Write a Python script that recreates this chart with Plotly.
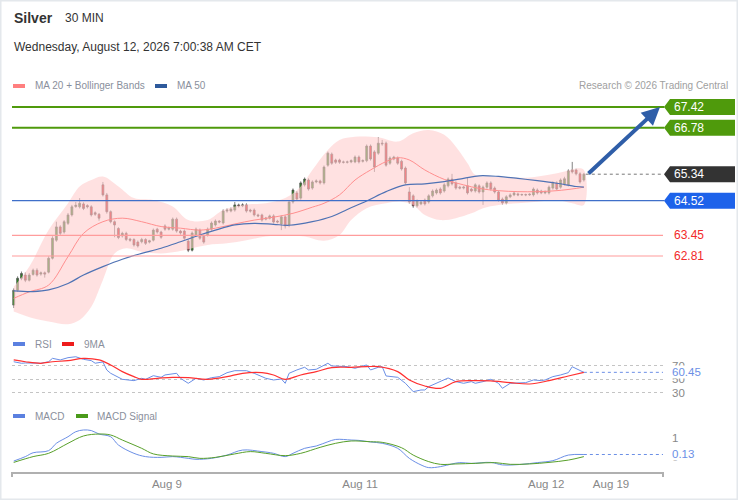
"""Silver 30 MIN chart with Bollinger bands, RSI and MACD panels."""
import plotly.graph_objects as go

# ---- price candles (index 0 = first 30 min bar) ----
opens = [
    61.29, 61.75, 62.12, 62.22, 62.06, 62.24, 62.37, 62.25, 62.29, 62.31,
    62.74, 63.30, 63.71, 63.55, 63.82, 64.08, 64.34, 64.33, 64.42, 64.37,
    64.33, 64.15, 64.10, 65.01, 64.70, 64.18, 63.87, 63.66, 63.43, 63.51,
    63.33, 63.32, 63.24, 63.25, 63.32, 63.24, 63.30, 63.64, 63.55, 63.74,
    63.64, 63.64, 63.95, 63.58, 63.58, 63.27, 62.99, 63.46, 63.61, 63.42,
    63.46, 63.64, 63.77, 63.89, 63.83, 64.20, 64.20, 64.23, 64.39, 64.36,
    64.39, 64.23, 64.23, 64.08, 64.08, 63.95, 63.98, 64.05, 63.89, 63.80,
    64.02, 63.77, 64.48, 64.76, 64.60, 65.01, 65.16, 64.91, 65.10, 65.13,
    65.07, 65.62, 65.96, 65.78, 65.78, 65.72, 65.71, 65.72, 65.72, 65.87,
    65.74, 65.76, 66.21, 66.03, 65.99, 66.30, 66.30, 65.68, 65.81, 65.84,
    65.74, 65.53, 64.79, 64.67, 64.36, 64.42, 64.54, 64.48, 64.67, 64.76,
    64.88, 64.82, 64.98, 65.19, 65.07, 64.94, 64.91, 64.98, 64.88, 64.82,
    64.98, 64.79, 64.94, 65.07, 64.91, 64.79, 64.57, 64.45, 64.64, 64.70,
    64.73, 64.70, 64.71, 64.70, 64.70, 64.85, 64.82, 64.76, 64.76, 64.91,
    65.07, 64.94, 65.04, 65.01, 65.47, 65.47, 65.35, 65.16,
]
highs = [
    61.81, 62.18, 62.33, 62.30, 62.28, 62.42, 62.43, 62.33, 62.33, 62.80,
    63.42, 63.87, 63.76, 63.92, 64.14, 64.39, 64.48, 64.60, 64.47, 64.41,
    64.38, 64.19, 64.14, 65.10, 64.76, 64.22, 63.91, 63.70, 63.56, 63.56,
    63.37, 63.36, 63.29, 63.37, 63.36, 63.31, 63.66, 63.68, 63.59, 63.79,
    63.72, 64.00, 64.00, 63.62, 63.63, 63.33, 63.57, 63.69, 63.66, 63.47,
    63.69, 63.88, 63.94, 63.92, 64.25, 64.28, 64.31, 64.48, 64.43, 64.44,
    64.44, 64.27, 64.28, 64.12, 64.12, 64.02, 64.09, 64.10, 63.93, 64.07,
    64.07, 64.53, 64.90, 64.82, 65.12, 65.24, 65.21, 65.15, 65.18, 65.17,
    65.61, 66.04, 66.01, 65.82, 65.82, 65.76, 65.76, 65.80, 65.92, 65.92,
    65.80, 66.26, 66.26, 66.08, 66.49, 66.40, 66.35, 65.89, 65.91, 65.89,
    65.79, 65.58, 64.94, 64.72, 64.56, 64.53, 64.59, 64.72, 64.87, 64.90,
    64.93, 65.06, 65.24, 65.35, 65.12, 64.98, 64.98, 65.22, 64.92, 65.06,
    65.03, 64.99, 65.12, 65.12, 64.96, 64.84, 64.62, 64.69, 64.75, 64.80,
    64.77, 64.74, 64.74, 64.75, 64.93, 64.90, 64.86, 64.84, 64.99, 65.12,
    65.12, 65.21, 65.26, 65.49, 65.72, 65.51, 65.40, 65.38,
]
lows = [
    61.20, 61.70, 62.06, 62.00, 62.02, 62.20, 62.17, 62.20, 62.14, 62.27,
    62.70, 63.25, 63.46, 63.50, 63.77, 64.03, 64.30, 64.28, 64.23, 64.28,
    64.03, 64.05, 63.90, 64.65, 64.12, 63.82, 63.39, 63.33, 63.38, 63.27,
    63.25, 63.10, 63.07, 63.20, 63.15, 63.20, 63.26, 63.50, 63.34, 63.59,
    63.60, 63.59, 63.53, 63.47, 63.31, 62.93, 62.95, 63.41, 63.31, 63.19,
    63.41, 63.59, 63.72, 63.82, 63.78, 64.15, 64.16, 64.18, 64.31, 64.32,
    64.15, 64.15, 64.03, 64.01, 63.87, 63.91, 63.94, 63.81, 63.82, 63.61,
    63.66, 63.70, 64.43, 64.52, 64.55, 64.96, 64.83, 64.86, 65.06, 65.02,
    65.02, 65.57, 65.63, 65.66, 65.66, 65.67, 65.67, 65.68, 65.68, 65.67,
    65.70, 65.71, 65.76, 65.41, 65.94, 66.22, 65.57, 65.63, 65.77, 65.63,
    65.45, 65.02, 64.43, 64.30, 64.31, 64.38, 64.37, 64.43, 64.62, 64.71,
    64.71, 64.77, 64.93, 64.99, 64.86, 64.87, 64.87, 64.71, 64.78, 64.77,
    64.74, 64.39, 64.89, 64.83, 64.74, 64.49, 64.40, 64.41, 64.60, 64.66,
    64.66, 64.67, 64.66, 64.67, 64.65, 64.71, 64.72, 64.72, 64.71, 64.86,
    64.83, 64.89, 64.99, 64.96, 65.36, 65.30, 65.05, 65.11,
]
closes = [
    61.75, 62.12, 62.27, 62.06, 62.22, 62.37, 62.22, 62.29, 62.25, 62.74,
    63.36, 63.71, 63.51, 63.87, 64.08, 64.33, 64.38, 64.44, 64.28, 64.33,
    64.08, 64.10, 63.98, 64.70, 64.18, 63.87, 63.77, 63.38, 63.51, 63.32,
    63.30, 63.15, 63.12, 63.32, 63.20, 63.28, 63.61, 63.55, 63.39, 63.64,
    63.67, 63.95, 63.58, 63.52, 63.36, 62.99, 63.52, 63.64, 63.36, 63.24,
    63.64, 63.83, 63.89, 63.86, 64.20, 64.23, 64.26, 64.39, 64.36, 64.39,
    64.20, 64.20, 64.08, 64.05, 63.92, 63.98, 64.05, 63.86, 63.86, 64.02,
    63.74, 64.48, 64.85, 64.57, 65.07, 65.19, 64.88, 65.10, 65.13, 65.07,
    65.56, 65.99, 65.68, 65.71, 65.71, 65.71, 65.72, 65.76, 65.87, 65.72,
    65.76, 66.21, 65.81, 65.56, 66.30, 66.28, 65.62, 65.84, 65.87, 65.68,
    65.50, 65.07, 64.48, 64.36, 64.51, 64.48, 64.42, 64.67, 64.82, 64.85,
    64.76, 65.01, 65.19, 65.04, 64.91, 64.91, 64.94, 64.76, 64.82, 65.01,
    64.79, 64.94, 65.07, 64.88, 64.79, 64.54, 64.45, 64.64, 64.70, 64.76,
    64.70, 64.71, 64.70, 64.72, 64.88, 64.76, 64.76, 64.80, 64.94, 65.07,
    64.88, 65.16, 65.20, 65.44, 65.41, 65.35, 65.10, 65.34,
]
bar_idx = list(range(len(closes)))

# ---- overlays ----
bb_upper_x = [0, 4, 9, 14, 17, 20, 23, 27, 31, 36, 41, 45, 50, 54, 59, 65, 70, 74,
              77, 81, 84, 88, 94, 99, 103, 107, 111, 114, 117, 119, 123, 128, 133,
              138, 142, 145, 147]
bb_upper = [61.86, 62.48, 63.61, 64.44, 64.96, 65.16, 65.27, 64.96, 64.60, 64.54,
            64.34, 63.92, 63.92, 64.23, 64.39, 64.44, 64.60, 64.96, 65.47, 66.09,
            66.40, 66.50, 66.48, 66.35, 66.61, 66.71, 66.56, 66.19, 65.68, 65.32,
            65.27, 65.24, 65.24, 65.32, 65.42, 65.52, 65.47]
bb_lower_x = [0, 5, 9, 14, 17, 20, 23, 26, 29, 33, 38, 42, 46, 50, 55, 60, 65, 70,
              75, 80, 84, 87, 91, 96, 100, 103, 106, 110, 114, 118, 121, 125, 130,
              135, 140, 144, 147]
bb_lower = [61.09, 60.88, 60.78, 60.70, 60.83, 61.24, 62.07, 62.89, 63.05, 62.94,
            62.89, 62.94, 63.05, 63.15, 63.20, 63.30, 63.41, 63.46, 63.41, 63.28,
            63.46, 63.92, 64.29, 64.44, 64.49, 64.39, 64.08, 63.92, 63.98, 64.13,
            64.29, 64.39, 64.44, 64.49, 64.54, 64.44, 64.39]
ma20_x = [0, 4, 9, 14, 18, 23, 28, 33, 38, 43, 48, 52, 57, 62, 67, 72, 77, 80, 84,
          88, 92, 96, 99, 102, 106, 111, 116, 120, 125, 130, 135, 140, 145, 147]
ma20 = [61.50, 61.70, 61.91, 62.79, 63.51, 63.87, 63.98, 63.87, 63.72, 63.67,
        63.61, 63.67, 63.80, 63.92, 64.01, 64.13, 64.32, 64.44, 64.70, 65.16,
        65.47, 65.73, 65.85, 65.78, 65.47, 65.18, 65.01, 64.90, 64.83, 64.80,
        64.80, 64.83, 64.90, 64.94]
ma50_x = [0, 5, 9, 14, 18, 23, 28, 33, 38, 43, 48, 52, 57, 62, 67, 71, 77, 82, 86,
          91, 96, 101, 106, 111, 116, 120, 125, 130, 135, 140, 145, 147]
ma50 = [61.73, 61.71, 61.76, 61.96, 62.22, 62.48, 62.71, 62.89, 63.05, 63.25,
        63.46, 63.61, 63.77, 63.82, 63.79, 63.76, 63.87, 64.03, 64.25, 64.51,
        64.80, 65.01, 65.04, 65.11, 65.21, 65.29, 65.27, 65.21, 65.14, 65.06,
        64.96, 64.94]

# ---- key levels ----
resistances = [67.42, 66.78]
last_price = 65.34
pivot = 64.52
supports = [63.45, 62.81]

# ---- RSI panel ----
rsi_x = [0, 2, 3, 5, 7, 9, 10, 12, 14, 16, 18, 20, 21, 23, 24, 25, 27, 28, 31, 33,
         34, 36, 38, 39, 42, 43, 45, 47, 49, 51, 53, 55, 57, 60, 62, 64, 65, 67,
         69, 70, 71, 73, 75, 76, 78, 81, 82, 86, 88, 91, 92, 94, 95, 96, 97, 99,
         101, 103, 105, 106, 107, 109, 111, 112, 114, 116, 118, 119, 121, 123,
         125, 126, 128, 130, 132, 134, 136, 137, 139, 141, 143, 144, 146, 147]
rsi = [76.3, 74.0, 74.5, 74.0, 74.0, 76.3, 81.4, 79.0, 82.4, 83.8, 79.9, 78.0,
       74.1, 76.0, 63.9, 59.0, 52.4, 50.0, 48.0, 51.5, 50.0, 55.4, 53.0, 56.5,
       59.0, 51.5, 44.0, 51.5, 49.0, 52.4, 54.0, 59.9, 62.9, 62.9, 59.0, 54.0,
       51.5, 49.0, 50.5, 44.0, 59.0, 64.0, 68.0, 64.0, 65.0, 74.0, 70.0, 69.0,
       66.5, 71.5, 64.0, 68.0, 69.0, 55.0, 54.0, 53.0, 44.0, 31.5, 34.0, 34.0,
       39.0, 44.0, 49.0, 52.0, 46.5, 44.0, 46.5, 44.0, 46.5, 50.0, 44.0, 36.5,
       44.0, 45.0, 45.0, 49.0, 48.0, 49.0, 54.0, 56.5, 60.0, 68.8, 63.0, 60.45]
rsi_ma_x = [0, 3, 7, 10, 14, 18, 22, 25, 28, 31, 33, 37, 41, 45, 50, 55, 59, 64,
            67, 70, 74, 78, 82, 87, 91, 94, 99, 102, 106, 110, 114, 119, 123, 128,
            133, 138, 143, 147]
rsi_ma = [79.0, 76.3, 74.0, 76.3, 78.0, 81.4, 79.0, 71.5, 61.5, 54.0, 50.0, 51.5,
          53.0, 52.4, 50.0, 54.0, 59.0, 60.0, 56.5, 50.0, 56.5, 61.5, 67.5, 68.0,
          69.0, 69.0, 61.5, 49.0, 40.0, 36.5, 46.5, 48.0, 47.5, 45.0, 43.0, 48.0,
          55.0, 60.45]
rsi_levels = [70, 50, 30]

# ---- MACD panel ----
macd_x = [0, 3, 5, 9, 11, 14, 16, 18, 20, 22, 25, 27, 31, 34, 38, 41, 45, 47, 51,
          55, 59, 64, 67, 70, 72, 75, 78, 81, 83, 87, 89, 92, 95, 99, 102, 105,
          107, 110, 113, 115, 118, 123, 126, 131, 135, 139, 143, 147]
macd = [-0.21, 0.02, 0.22, 0.33, 0.71, 1.05, 1.31, 1.40, 1.37, 1.19, 1.05, 0.62,
        0.19, 0.02, -0.02, 0.02, -0.07, -0.12, -0.07, 0.10, 0.36, 0.28, 0.19,
        0.02, 0.19, 0.45, 0.57, 0.79, 0.91, 0.88, 0.86, 0.78, 0.71, 0.45, -0.07,
        -0.41, -0.55, -0.50, -0.36, -0.29, -0.33, -0.28, -0.41, -0.38, -0.29,
        -0.19, 0.10, 0.13]
signal_x = [0, 5, 9, 14, 18, 22, 25, 28, 33, 36, 41, 45, 48, 52, 57, 61, 65, 70,
            74, 79, 83, 87, 92, 95, 100, 103, 107, 110, 114, 119, 124, 128, 133,
            138, 143, 147]
signal = [-0.28, 0.02, 0.19, 0.71, 1.09, 1.19, 1.14, 0.88, 0.45, 0.16, 0.05, 0.02,
          -0.07, -0.02, 0.16, 0.28, 0.19, 0.07, 0.19, 0.50, 0.71, 0.83, 0.79, 0.76,
          0.48, 0.10, -0.24, -0.38, -0.36, -0.33, -0.29, -0.38, -0.36, -0.28,
          -0.16, 0.02]
macd_ticks = [0, 1]

# ---- x axis labels ----
date_pos = [39.5, 89.3, 137.3, 154.0]
date_labels = ['Aug 9', 'Aug 11', 'Aug 12', 'Aug 19']

FONT = 'Liberation Sans, Arial, sans-serif'
GREEN = '#4f9a0c'
BLUE_LVL = '#1d62ea'
RED_LVL = '#ff9c9c'
RED_TXT = '#f22a2a'
IND_BLUE = '#6b8fe6'

# pixel layout of the figure (738 x 500)
L, R, T, B = 12, 75, 95, 28
PW, PH = 738 - L - R, 500 - T - B


def px_x(x):
    return (x - L) / PW


def px_y(y):
    return (500 - B - y) / PH


def label(x, y, text, xref='paper', yref='paper', anchor='left', **font):
    return dict(xref=xref, yref=yref, x=x, y=y, text=text, showarrow=False,
                xanchor=anchor, yanchor='middle', font=dict(family=FONT, **font))


fig = go.Figure()

# Bollinger band as one closed area
fig.add_trace(go.Scatter(
    x=bb_upper_x + bb_lower_x[::-1], y=bb_upper + bb_lower[::-1],
    fill='toself', fillcolor='rgba(255,205,205,0.6)', line=dict(width=0),
    mode='lines', line_shape='spline', hoverinfo='skip', showlegend=False,
))
fig.add_trace(go.Scatter(x=ma20_x, y=ma20, mode='lines', line_shape='spline',
                         line=dict(color='#ff8f8f', width=1), showlegend=False))
fig.add_trace(go.Scatter(x=ma50_x, y=ma50, mode='lines', line_shape='spline',
                         line=dict(color='#4f72b4', width=1.2), showlegend=False))
fig.add_trace(go.Candlestick(
    x=bar_idx, open=opens, high=highs, low=lows, close=closes,
    increasing=dict(line=dict(color='#4d4d4d', width=0.7), fillcolor='#2b8a1f'),
    decreasing=dict(line=dict(color='#4d4d4d', width=0.7), fillcolor='#e8141c'),
    whiskerwidth=0, showlegend=False,
))

# RSI
fig.add_trace(go.Scatter(x=rsi_x, y=rsi, yaxis='y2', mode='lines',
                         line=dict(color=IND_BLUE, width=1), showlegend=False))
fig.add_trace(go.Scatter(x=rsi_ma_x, y=rsi_ma, yaxis='y2', mode='lines',
                         line_shape='spline', line=dict(color='#ff3030', width=1.2),
                         showlegend=False))
# MACD
fig.add_trace(go.Scatter(x=macd_x, y=macd, yaxis='y3', mode='lines',
                         line_shape='spline', line=dict(color=IND_BLUE, width=1),
                         showlegend=False))
fig.add_trace(go.Scatter(x=signal_x, y=signal, yaxis='y3', mode='lines',
                         line_shape='spline', line=dict(color='#58a02a', width=1),
                         showlegend=False))

shapes = []
annotations = []
last_i = bar_idx[-1]

# horizontal levels
for lv in resistances:
    shapes.append(dict(type='line', xref='paper', yref='y', x0=0, x1=1.002, y0=lv, y1=lv,
                       line=dict(color=GREEN, width=2)))
shapes.append(dict(type='line', xref='paper', yref='y', x0=0, x1=1.002, y0=pivot, y1=pivot,
                   line=dict(color='#3f6fc9', width=1.3)))
for lv in supports:
    shapes.append(dict(type='line', xref='paper', yref='y', x0=0, x1=1, y0=lv, y1=lv,
                       line=dict(color=RED_LVL, width=1.2)))
shapes.append(dict(type='line', xref='x', yref='y', x0=last_i + 0.5, x1=167.4,
                   y0=last_price, y1=last_price, line=dict(color='#777', width=1, dash='dot')))

# price tags on the right (arrow-shaped boxes)
half_h = 8 / 32.3
tip, body_l, body_r = px_x(664), px_x(670), px_x(735)
for lv, col in [(resistances[0], GREEN), (resistances[1], GREEN),
                (last_price, '#333333'), (pivot, BLUE_LVL)]:
    path = (f'M {tip},{lv} L {body_l},{lv + half_h} L {body_r},{lv + half_h} '
            f'L {body_r},{lv - half_h} L {body_l},{lv - half_h} Z')
    shapes.append(dict(type='path', xref='paper', yref='y', path=path,
                       fillcolor=col, line=dict(width=0)))
    annotations.append(label(px_x(672), lv, f'{lv:.2f}', yref='y', color='white', size=12))
for lv in supports:
    annotations.append(label(px_x(672), lv, f'{lv:.2f}', yref='y', color=RED_TXT, size=12))

# target arrow
annotations.append(dict(xref='paper', yref='y', x=px_x(660), y=resistances[0], text='',
                        showarrow=True, ax=-73, ay=68, arrowcolor='#2f5ea8',
                        arrowwidth=4, arrowhead=2, arrowsize=0.9, standoff=0))

# indicator last values
shapes.append(dict(type='line', xref='x', yref='y2', x0=last_i, x1=167.4,
                   y0=rsi[-1], y1=rsi[-1], line=dict(color=IND_BLUE, width=1, dash='dot')))
shapes.append(dict(type='line', xref='x', yref='y3', x0=last_i, x1=167.4,
                   y0=macd[-1], y1=macd[-1], line=dict(color=IND_BLUE, width=1, dash='dot')))
for yr, val in (('y2', rsi[-1]), ('y3', macd[-1])):
    a = label(px_x(671), val, f'{val:.2f}', yref=yr, color=IND_BLUE, size=11.5)
    a.update(bgcolor='white', borderpad=0)
    annotations.append(a)

# titles and legends
annotations += [
    label(px_x(12), px_y(18), '<b>Silver</b>', size=14, color='#333'),
    label(px_x(63), px_y(18), '30 MIN', size=12, color='#333'),
    label(px_x(12), px_y(47), 'Wednesday, August 12, 2026 7:00:38 AM CET', size=12, color='#333'),
    label(px_x(730), px_y(86), 'Research © 2026 Trading Central', anchor='right',
          size=10, color='#a0a0a0'),
]
legend_items = [
    (13, 86, '#ff7f7f', 'MA 20 + Bollinger Bands', 33),
    (155, 86, '#2e5a9c', 'MA 50', 175),
    (13, 344, '#5b80e0', 'RSI', 33),
    (62, 344, '#ee1c1c', '9MA', 82),
    (13, 416, '#5b80e0', 'MACD', 33),
    (76, 416, '#4a9a1a', 'MACD Signal', 95),
]
for sx, sy, col, text, tx in legend_items:
    shapes.append(dict(type='rect', xref='paper', yref='paper',
                       x0=px_x(sx), x1=px_x(sx + 12), y0=px_y(sy + 2), y1=px_y(sy - 2),
                       fillcolor=col, line=dict(width=0)))
    annotations.append(label(px_x(tx), px_y(sy), text, size=10, color='#8a8f9c'))

# end ticks of the time axis and outer frame
for ex in (0, 1):
    shapes.append(dict(type='line', xref='paper', yref='paper', x0=ex, x1=ex,
                       y0=0, y1=px_y(477), line=dict(color='#b0b0b0', width=2)))
shapes.append(dict(type='rect', xref='paper', yref='paper',
                   x0=px_x(0.5), x1=px_x(737.5), y0=px_y(499.5), y1=px_y(0.5),
                   line=dict(color='#e4e8ec', width=2)))

fig.update_layout(
    width=738, height=500, autosize=False,
    margin=dict(l=L, r=R, t=T, b=B, autoexpand=False),
    paper_bgcolor='white', plot_bgcolor='white',
    font=dict(family=FONT, color='#777'),
    showlegend=False,
    xaxis=dict(range=[-0.44, 167.4], anchor='y3', rangeslider=dict(visible=False),
               showgrid=False, zeroline=False, showline=True, linecolor='#b0b0b0',
               linewidth=2, tickvals=date_pos, ticktext=date_labels, ticks='',
               tickfont=dict(size=11.5, color='#888'), automargin=False),
    yaxis=dict(domain=[px_y(330), 1], range=[60.52, 67.79], anchor='x',
               showgrid=False, zeroline=False, showticklabels=False),
    yaxis2=dict(domain=[px_y(400), px_y(355)], range=[19.0, 86.4], anchor='x',
                side='right', tickvals=rsi_levels, showgrid=True, gridcolor='#c4c4c4',
                griddash='dot', gridwidth=1, zeroline=False, automargin=False,
                tickfont=dict(size=11.5, color='#888'), ticklabelstandoff=8),
    yaxis3=dict(domain=[0, px_y(420)], range=[-0.777, 1.917], anchor='x',
                side='right', tickvals=macd_ticks, showgrid=False, zeroline=False,
                automargin=False, tickfont=dict(size=11.5, color='#888'),
                ticklabelstandoff=8),
    shapes=shapes,
    annotations=annotations,
)

# the page's default body margin would shift the picture by 8px
fig.write_html('out.html', config={'displayModeBar': False, 'responsive': False},
               post_script="document.body.style.margin='0px';")
